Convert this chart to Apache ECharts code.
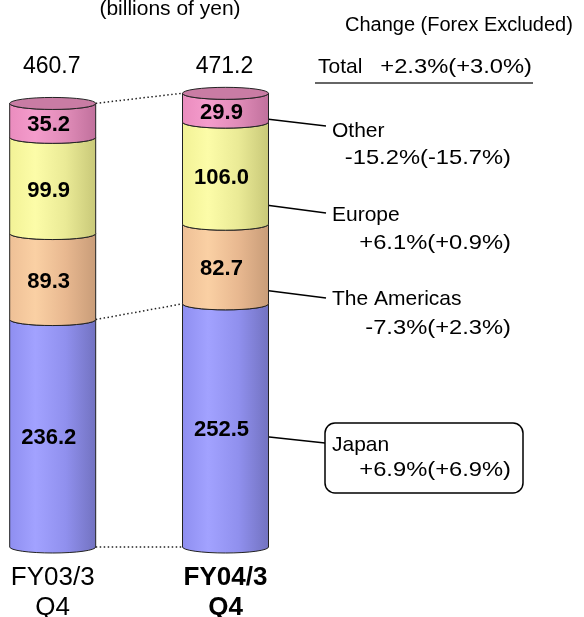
<!DOCTYPE html>
<html>
<head>
<meta charset="utf-8">
<style>
  html, body { margin: 0; padding: 0; background: #fff; }
  #chart { width: 584px; height: 617px; }
</style>
<script src="https://cdn.jsdelivr.net/npm/echarts@6/dist/echarts.min.js"></script>
</head>
<body>
<div id="chart"></div>
<script>
// sales by region, billions of yen
const categories = ['FY03/3\nQ4', 'FY04/3\nQ4']
const japan = [236.2, 252.5]
const americas = [89.3, 82.7]
const europe = [99.9, 106.0]
const other = [35.2, 29.9]
const totals = [460.7, 471.2]

const FONT = '"Liberation Sans", Arial, sans-serif'
const BAR_W = 86
const RY = 6

// stack order bottom -> top
const segments = [
  { name: 'Japan', values: japan, colors: ['#8e8ef0', '#a2a2ff', '#9090ee', '#7272c0'] },
  { name: 'The Americas', values: americas, colors: ['#eec096', '#fad0a4', '#e8b890', '#c89c78'] },
  { name: 'Europe', values: europe, colors: ['#f2f296', '#fcfca8', '#eaea96', '#c8c878'] },
  { name: 'Other', values: other, colors: ['#ea8cbe', '#f49ccc', '#e08cb8', '#c0709c'] }
]

function stackData(idx) {
  return categories.map((c, i) => {
    let base = 0
    for (let k = 0; k < idx; k++) base += segments[k].values[i]
    return [i, base, base + segments[idx].values[i], segments[idx].values[i]]
  })
}

function faceItem(seg, isTop) {
  return function (params, api) {
    const x = api.value(0)
    const pb = api.coord([x, api.value(1)])
    const pt = api.coord([x, api.value(2)])
    const l = pb[0] - BAR_W / 2
    const r = pb[0] + BAR_W / 2
    const rx = BAR_W / 2
    const d = 'M' + l + ' ' + pt[1] +
      ' A' + rx + ' ' + RY + ' 0 0 0 ' + r + ' ' + pt[1] +
      ' L' + r + ' ' + pb[1] +
      ' A' + rx + ' ' + RY + ' 0 0 1 ' + l + ' ' + pb[1] + ' Z'
    const children = [{
      type: 'path',
      shape: { pathData: d },
      style: {
        fill: {
          type: 'linear', x: 0, y: 0, x2: 1, y2: 0,
          colorStops: [
            { offset: 0, color: seg.colors[0] },
            { offset: 0.3, color: seg.colors[1] },
            { offset: 0.65, color: seg.colors[2] },
            { offset: 1, color: seg.colors[3] }
          ]
        },
        stroke: '#222',
        lineWidth: 1
      }
    }]
    if (isTop) {
      const cap = 'M' + l + ' ' + pt[1] +
        ' A' + rx + ' ' + RY + ' 0 1 0 ' + r + ' ' + pt[1] +
        ' A' + rx + ' ' + RY + ' 0 1 0 ' + l + ' ' + pt[1] + ' Z'
      children.push({
        type: 'path',
        shape: { pathData: cap },
        style: { fill: '#c97ca4', stroke: '#222', lineWidth: 1 }
      })
    }
    children.push({
      type: 'text',
      style: {
        x: pb[0] - 4,
        y: (pb[1] + pt[1]) / 2 + 5,
        text: api.value(3).toFixed(1),
        font: 'bold 22px ' + FONT,
        fill: '#000',
        align: 'center',
        verticalAlign: 'middle'
      }
    })
    return { type: 'group', children: children }
  }
}

const series = segments.map((seg, k) => ({
  type: 'custom',
  name: seg.name,
  clip: false,
  z: 3,
  renderItem: faceItem(seg, k === segments.length - 1),
  data: stackData(k)
}))

// dotted connectors between the two bars
const connectors = [
  [0, totals[0], 1, totals[1]],
  [0, japan[0], 1, japan[1]],
  [0, 0, 1, 0]
]
series.push({
  type: 'custom',
  clip: false,
  z: 2,
  renderItem: function (params, api) {
    const a = api.coord([api.value(0), api.value(1)])
    const b = api.coord([api.value(2), api.value(3)])
    return {
      type: 'line',
      shape: { x1: a[0] + BAR_W / 2, y1: a[1], x2: b[0] - BAR_W / 2, y2: b[1] },
      style: { stroke: '#222', lineWidth: 1.5, lineDash: [1.5, 2.5] }
    }
  },
  data: connectors
})

// totals above each bar
series.push({
  type: 'custom',
  clip: false,
  z: 3,
  renderItem: function (params, api) {
    const p = api.coord([api.value(0), 500])
    return {
      type: 'text',
      style: {
        x: p[0] - 1, y: p[1] + 1,
        text: api.value(1).toFixed(1),
        font: '23px ' + FONT, fill: '#000',
        align: 'center', verticalAlign: 'middle'
      }
    }
  },
  data: totals.map((t, i) => [i, t])
})

const txt = (x, y, text, align, size) => ({
  type: 'text', x: x, y: y,
  style: { text: text, font: (size || 21) + 'px ' + FONT, fill: '#000', align: align || 'left', verticalAlign: 'middle' }
})
// percentage lines are set a little wider in the original
const pct = (x, y, text) => Object.assign(txt(x, y, text, 'right'), { scaleX: 1.13 })
const lead = (x1, y1, x2, y2) => ({
  type: 'line', shape: { x1: x1, y1: y1, x2: x2, y2: y2 },
  style: { stroke: '#000', lineWidth: 1.5 }
})

const chart = echarts.init(document.getElementById('chart'))
chart.setOption({
  animation: false,
  grid: { left: 52.7, right: 358.5, top: 65.5, bottom: 70, outerBoundsMode: 'none' },
  xAxis: {
    type: 'category',
    data: categories,
    boundaryGap: false,
    axisLine: { show: false },
    axisTick: { show: false },
    axisLabel: {
      interval: 0,
      margin: 16,
      fontFamily: FONT,
      fontSize: 26,
      lineHeight: 30,
      color: '#000',
      formatter: (v, i) => i === 1 ? v.split('\n').map(s => '{b|' + s + '}').join('\n') : v,
      rich: { b: { fontWeight: 'bold', fontFamily: FONT, fontSize: 26, lineHeight: 30, color: '#000' } }
    }
  },
  yAxis: { type: 'value', min: 0, max: 500, show: false },
  graphic: [
    txt(170, 9, '(billions of yen)', 'center'),
    txt(345, 25, 'Change (Forex Excluded)', 'left', 20),
    txt(318, 67, 'Total'),
    pct(532, 67, '+2.3%(+3.0%)'),
    { type: 'line', shape: { x1: 315, y1: 83, x2: 533, y2: 83 }, style: { stroke: '#333', lineWidth: 1.5 } },
    lead(258, 118, 326, 126),
    txt(332, 131, 'Other'),
    pct(511, 158, '-15.2%(-15.7%)'),
    lead(258, 204, 326, 213),
    txt(332, 215, 'Europe'),
    pct(511, 243, '+6.1%(+0.9%)'),
    lead(255, 289, 326, 298),
    txt(332, 299, 'The Americas'),
    pct(511, 328, '-7.3%(+2.3%)'),
    lead(260, 436, 325, 443),
    { type: 'rect', shape: { x: 325, y: 423, width: 198, height: 70, r: 10 }, style: { fill: '#fff', stroke: '#000', lineWidth: 1.5 } },
    txt(332, 445, 'Japan'),
    pct(511, 470, '+6.9%(+6.9%)')
  ],
  series: series
})
</script>
</body>
</html>
